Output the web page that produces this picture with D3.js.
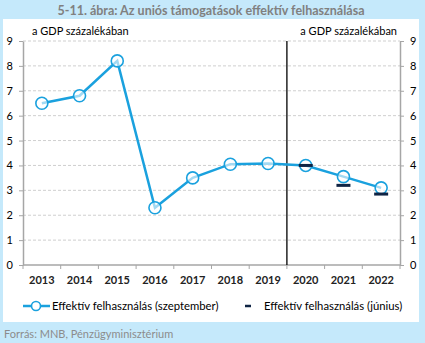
<!DOCTYPE html>
<html>
<head>
<meta charset="utf-8">
<script src="https://cdn.jsdelivr.net/npm/d3@7"></script>
<style>
  body { margin: 0; background: #c5e9fb; }
  svg { display: block; font-family: Lato, "Open Sans", sans-serif; }
</style>
</head>
<body>
<div id="chart"></div>
<script>
// data
var years = ["2013", "2014", "2015", "2016", "2017", "2018", "2019", "2020", "2021", "2022"];
var september = [6.5, 6.8, 8.2, 2.3, 3.5, 4.05, 4.08, 4.0, 3.55, 3.1];
var juneYears = ["2020", "2021", "2022"];
var june = [4.0, 3.2, 2.85];
var yTicks = [0, 1, 2, 3, 4, 5, 6, 7, 8, 9];

function drawChart() {

    var width = 425, height = 343;
    var mLeft = 23, mRight = 400, mTop = 41, mBottom = 265;
    var lineColor = "#1aa1de", darkColor = "#0f2444", axisColor = "#a6a6a6";

    var svg = d3.select("#chart").append("svg")
        .attr("width", width)
        .attr("height", height);

    // white panel
    svg.append("rect")
        .attr("x", 3).attr("y", 19)
        .attr("width", 416).attr("height", 303)
        .attr("fill", "#fff");

    svg.append("text")   // title
        .attr("x", 211).attr("y", 15)
        .attr("text-anchor", "middle")
        .attr("font-size", 12.5).attr("font-weight", "bold")
        .attr("fill", "#808080")
        .text("5-11. ábra: Az uniós támogatások effektív felhasználása");

    var x = d3.scaleBand().domain(years).range([mLeft, mRight]);
    var y = d3.scaleLinear().domain([0, 9]).range([mBottom, mTop]);

    // grid lines
    svg.append("g")
        .selectAll("line")
        .data(yTicks.filter(function (d) { return d > 0; }))
        .enter().append("line")
        .attr("x1", mLeft).attr("x2", mRight)
        .attr("y1", function (d) { return y(d); })
        .attr("y2", function (d) { return y(d); })
        .attr("stroke", "#cfcfcf")
        .attr("stroke-dasharray", "3,2");

    function styleAxis(g) {
        g.select(".domain").attr("stroke", axisColor).attr("stroke-width", 1.5);
        g.selectAll(".tick line").attr("stroke", axisColor);
        g.selectAll(".tick text").attr("fill", "#000").attr("font-size", 11)
            .attr("font-family", "Lato, sans-serif");
    }

    // left axis
    svg.append("g")
        .attr("transform", "translate(" + mLeft + ",0)")
        .call(d3.axisLeft(y).tickValues(yTicks).tickSize(4).tickSizeOuter(0).tickPadding(6))
        .call(styleAxis);

    // right axis
    svg.append("g")
        .attr("transform", "translate(" + mRight + ",0)")
        .call(d3.axisRight(y).tickValues(yTicks).tickSize(4).tickSizeOuter(0).tickPadding(6))
        .call(styleAxis);

    // bottom axis with ticks at category boundaries
    var xAxis = svg.append("g")
        .attr("transform", "translate(0," + mBottom + ")");
    xAxis.append("line")
        .attr("x1", mLeft).attr("x2", mRight)
        .attr("stroke", axisColor).attr("stroke-width", 1.5);
    xAxis.selectAll(".bt")
        .data(years.concat(["end"]))
        .enter().append("line")
        .attr("x1", function (d, i) { return mLeft + i * x.bandwidth(); })
        .attr("x2", function (d, i) { return mLeft + i * x.bandwidth(); })
        .attr("y1", 0).attr("y2", 4)
        .attr("stroke", axisColor);
    xAxis.selectAll("text")
        .data(years)
        .enter().append("text")
        .attr("x", function (d) { return x(d) + x.bandwidth() / 2; })
        .attr("y", 19)
        .attr("text-anchor", "middle")
        .attr("font-size", 11)
        .attr("font-weight", "bold")
        .attr("fill", "#222")
        .text(function (d) { return d; });

    // separator between 2019 and 2020
    svg.append("line")
        .attr("x1", x("2020")).attr("x2", x("2020"))
        .attr("y1", mTop).attr("y2", mBottom)
        .attr("stroke", "#000").attr("stroke-width", 1.3);

    // unit labels
    svg.append("text").attr("x", 32).attr("y", 35)
        .attr("font-size", 11).attr("fill", "#000").text("a GDP százalékában");
    svg.append("text").attr("x", 397).attr("y", 35).attr("text-anchor", "end")
        .attr("font-size", 11).attr("fill", "#000").text("a GDP százalékában");

    var cx = function (d, i) { return x(years[i]) + x.bandwidth() / 2; };

    // september line
    svg.append("path")
        .datum(september)
        .attr("fill", "none")
        .attr("stroke", lineColor)
        .attr("stroke-width", 2.5)
        .attr("d", d3.line().x(cx).y(function (d) { return y(d); }));

    // markers
    svg.append("g")
        .selectAll("circle")
        .data(september)
        .enter().append("circle")
        .attr("cx", cx)
        .attr("cy", function (d) { return y(d); })
        .attr("r", 6)
        .attr("fill", "#fff")
        .attr("fill-opacity", 0.6)
        .attr("stroke", lineColor)
        .attr("stroke-width", 1.6);

    // june dashes, drawn on top of the markers
    svg.append("g")
        .selectAll("line")
        .data(june)
        .enter().append("line")
        .attr("x1", function (d, i) { return x(juneYears[i]) + x.bandwidth() / 2 - 7; })
        .attr("x2", function (d, i) { return x(juneYears[i]) + x.bandwidth() / 2 + 7; })
        .attr("y1", function (d) { return y(d); })
        .attr("y2", function (d) { return y(d); })
        .attr("stroke", darkColor)
        .attr("stroke-width", 3);

    // legend
    var legend = svg.append("g").attr("transform", "translate(0,306)");
    legend.append("line").attr("x1", 23).attr("x2", 50)
        .attr("stroke", lineColor).attr("stroke-width", 2.5);
    legend.append("circle").attr("cx", 36).attr("r", 4.5)
        .attr("fill", "#fff").attr("stroke", lineColor).attr("stroke-width", 1.6);
    legend.append("text").attr("x", 52).attr("y", 4)
        .attr("font-size", 11.3).attr("fill", "#000")
        .text("Effektív felhasználás (szeptember)");
    legend.append("line").attr("x1", 245).attr("x2", 251)
        .attr("stroke", darkColor).attr("stroke-width", 2.5);
    legend.append("text").attr("x", 264).attr("y", 4)
        .attr("font-size", 11.3).attr("fill", "#000")
        .text("Effektív felhasználás (június)");

    svg.append("text")   // source
        .attr("x", 4).attr("y", 338)
        .attr("font-size", 11).attr("fill", "#8c8c8c")
        .text("Forrás: MNB, Pénzügyminisztérium");
}

drawChart();
</script>
</body>
</html>
